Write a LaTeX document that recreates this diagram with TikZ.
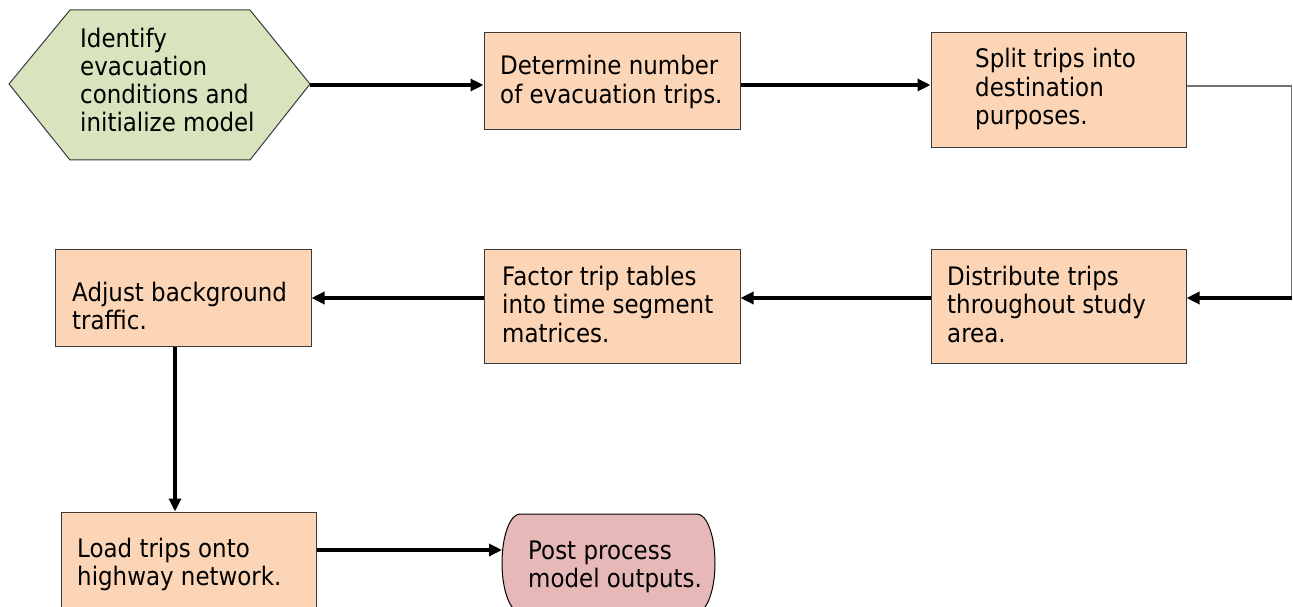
\documentclass[tikz,border=0pt]{standalone}
\usepackage{fontspec}
\setmainfont{DejaVu Sans}[FakeStretch=0.9]
\usetikzlibrary{arrows.meta}
\definecolor{peach}{HTML}{FBD5B5}
\definecolor{sage}{HTML}{D7E4BD}
\definecolor{rose}{HTML}{E6B9B8}
\definecolor{edge}{HTML}{3A3A3A}
\tikzset{
  stepbox/.style={draw=edge, fill=peach, line width=1pt, inner sep=0pt},
  label/.style={anchor=base west, inner sep=0pt, font=\fontsize{25.5}{28.5}\selectfont},
  arr/.style={line width=3.2pt, -{Triangle[length=13pt,width=12pt]}},
  thinline/.style={draw=black!55, line width=1.1pt}
}
\newcommand{\lines}[1]{\begin{tabular}[t]{@{}l@{}}#1\end{tabular}}
\begin{document}
\begin{tikzpicture}[x=1pt,y=-1pt]
\path[use as bounding box] (0,0) rectangle (1293,607);
\clip (0,0) rectangle (1293,607);

% hexagon start
\draw[draw=edge, fill=sage, line width=1pt]
  (9,84) -- (70,10) -- (250,10) -- (310,84) -- (250,160) -- (70,160) -- cycle;
\coordinate (hexE) at (310,85);
\node[label] (t1) at (80,48) {\fontsize{25.5}{28}\selectfont\lines{Identify\\evacuation\\conditions and\\initialize model}};

% boxes
\node[stepbox, minimum width=256pt, minimum height=97pt] (b2) at (612,81.5) {};
\node[label] (t2) at (500,75) {\lines{Determine number\\of evacuation trips.}};

\node[stepbox, minimum width=255pt, minimum height=115pt] (b3) at (1058.5,90.5) {};
\node[label] (t3) at (975,68) {\lines{Split trips into\\destination\\purposes.}};

\node[stepbox, minimum width=255pt, minimum height=114pt] (b4) at (1058.5,306) {};
\node[label] (t4) at (947,285) {\lines{Distribute trips\\throughout study\\area.}};

\node[stepbox, minimum width=256pt, minimum height=114pt] (b5) at (612,306) {};
\node[label] (t5) at (502,285) {\lines{Factor trip tables\\into time segment\\matrices.}};

\node[stepbox, minimum width=256pt, minimum height=97pt] (b6) at (183,297.5) {};
\node[label] (t6) at (72,301) {\lines{Adjust background\\traffic.}};

\node[stepbox, minimum width=255pt, minimum height=108pt] (b7) at (188.5,566) {};
\node[label] (t7) at (77,557) {\lines{Load trips onto\\highway network.}};

% terminator
\draw[draw=black, fill=rose, line width=1pt]
  (520,514) -- (697,514) arc[start angle=-90, end angle=90, x radius=18, y radius=49]
  -- (520,612) arc[start angle=90, end angle=270, x radius=18, y radius=49] -- cycle;
\coordinate (termW) at (502,550);
\node[label] (t8) at (528,559) {\lines{Post process\\model outputs.}};

% connectors
\draw[arr] (hexE) -- (hexE -| b2.west);
\draw[arr] (b2.east |- hexE) -- (b3.west |- hexE);
\coordinate (c1) at (1291.5,86);
\coordinate (c2) at (1291.5,298);
\draw[thinline] (b3.east |- c1) -- (c1) -- (c2);
\draw[arr] (c2) -- (c2 -| b4.east);
\draw[arr] (b4.west |- c2) -- (b5.east |- c2);
\draw[arr] (b5.west |- c2) -- (b6.east |- c2);
\draw[arr] (b6.south -| 175,0) -- (b7.north -| 175,0);
\draw[arr] (b7.east |- termW) -- (termW);
\end{tikzpicture}
\end{document}
